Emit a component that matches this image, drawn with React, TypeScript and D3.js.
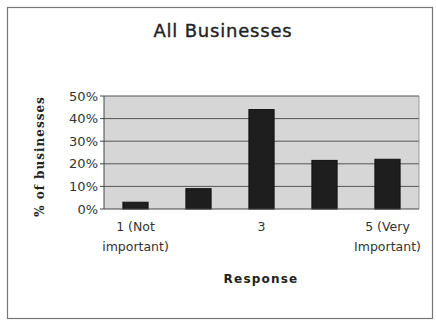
import React from 'react';
import * as d3 from 'd3';

const categories = ['1', '2', '3', '4', '5'];
const values = [3, 9, 44, 21.5, 22];
const yTicks = [0, 10, 20, 30, 40, 50];
const xLabels: Record<string, string[]> = {
  '1': ['1 (Not', 'important)'],
  '2': [],
  '3': ['3'],
  '4': [],
  '5': ['5 (Very', 'Important)'],
};

const W = 436;
const H = 320;
const margin = { top: 96, right: 17, bottom: 111, left: 104 };

export default function App() {
  const x = d3.scaleBand<string>()
    .domain(categories)
    .range([margin.left, W - margin.right])
    .paddingInner(0.6)
    .paddingOuter(0.3);

  const y = d3.scaleLinear()
    .domain([0, 50])
    .range([H - margin.bottom, margin.top]);

  const font = 'DejaVu Sans, Verdana, sans-serif';
  const plotW = W - margin.left - margin.right;
  const plotH = y(0) - y(50);

  return (
    <svg width={W} height={H} style={{ position: 'absolute', left: 0, top: 0, background: '#fff' }}>
      {/* outer frame */}
      <rect x={7.5} y={7.5} width={425} height={311} fill="none" stroke="#777" strokeWidth={1.2} />

      <text x={223} y={37} textAnchor="middle" fontFamily={font} fontSize={18} fill="#222"
        stroke="#222" strokeWidth={0.35} letterSpacing={0.8}>
        All Businesses
      </text>

      {/* plot background */}
      <rect x={margin.left} y={margin.top} width={plotW} height={plotH} fill="#d6d6d6" />

      {/* grid lines */}
      {yTicks.filter(t => t > 0).map(t => (
        <line key={t} x1={margin.left} x2={W - margin.right} y1={y(t)} y2={y(t)} stroke="#555" strokeWidth={1} />
      ))}
      <line x1={W - margin.right} x2={W - margin.right} y1={margin.top} y2={y(0)} stroke="#999" />

      {/* bars */}
      {categories.map((c, i) => (
        <rect key={c} x={x(c)} y={y(values[i])} width={x.bandwidth()} height={y(0) - y(values[i])}
          fill="#1e1e1e" stroke="#111" strokeWidth={1} />
      ))}

      {/* axes */}
      <line x1={margin.left} x2={margin.left} y1={margin.top} y2={y(0)} stroke="#444" />
      <line x1={margin.left} x2={W - margin.right} y1={y(0)} y2={y(0)} stroke="#444" />
      {yTicks.map(t => (
        <g key={t}>
          <line x1={margin.left - 4} x2={margin.left} y1={y(t)} y2={y(t)} stroke="#444" />
          <text x={margin.left - 6} y={y(t)} dy="0.36em" textAnchor="end" fontFamily={font} fontSize={13} fill="#333">
            {`${t}%`}
          </text>
        </g>
      ))}

      {categories.map(c => (
        <text key={c} textAnchor="middle" fontFamily={font} fontSize={12.5} fill="#333">
          {xLabels[c].map((line, j) => (
            <tspan key={j} x={(x(c) ?? 0) + x.bandwidth() / 2} y={231 + j * 20}>{line}</tspan>
          ))}
        </text>
      ))}

      <text transform={`translate(44,${(margin.top + y(0)) / 2 + 4}) rotate(-90)`} textAnchor="middle"
        fontFamily="DejaVu Serif, serif" fontWeight="bold" fontSize={12} fill="#222" letterSpacing={1}>
        % of businesses
      </text>

      <text x={261} y={283} textAnchor="middle" fontFamily="DejaVu Sans, sans-serif" fontWeight="bold" fontSize={12} fill="#222" letterSpacing={1.2}>
        Response
      </text>
    </svg>
  );
}
